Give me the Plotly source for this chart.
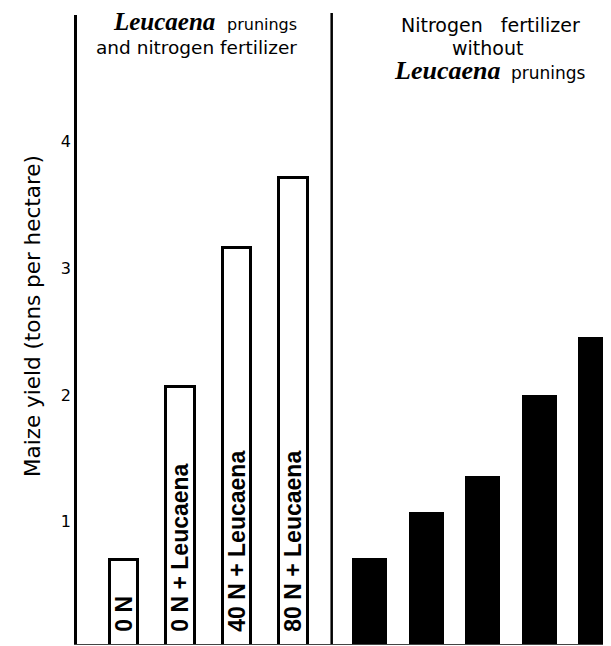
import plotly.graph_objects as go

# ---------------- data ----------------
open_labels = ["0 N", "0 N + Leucaena", "40 N + Leucaena", "80 N + Leucaena"]
open_yield = [0.70, 2.06, 3.16, 3.71]

fert_levels = ["N level 1", "N level 2", "N level 3", "N level 4", "N level 5"]
fert_yield = [0.71, 1.08, 1.36, 2.00, 2.46]

y_ticks = [1, 2, 3, 4]
y_title = "Maize yield (tons per hectare)"

# ---------------- layout constants ----------------
OFF = 8                      # page body margin of the browser
W, H = 611 - OFF, 646 - OFF
ML, MR, MT, MB = 77 - OFF, 0, 15 - OFF, 2
GROUP_GAP = 1.354            # slot distance between last open bar and first black bar
SANS = "DejaVu Sans"
SERIF = "Liberation Serif"
BOLD = "Liberation Sans"

x_open = list(range(len(open_yield)))
x_fert = [x_open[-1] + GROUP_GAP + j for j in range(len(fert_yield))]
divider_x = (x_open[-1] + x_fert[0]) / 2

NBSP = "\u00a0"


def px(x):
    return (x - OFF - ML) / (W - ML - MR)


def py(y):
    return (H - MB - (y - OFF)) / (H - MT - MB)


fig = go.Figure()

fig.add_trace(go.Bar(
    x=x_open, y=open_yield, width=0.50,
    marker=dict(color="white", line=dict(color="black", width=3)),
    text=[NBSP * 2 + t for t in open_labels],
    textposition="inside", insidetextanchor="start", textangle=-90,
    constraintext="none",
    textfont=dict(family=BOLD, size=23, color="black", weight="bold"),
    hoverinfo="skip", showlegend=False,
))

fig.add_trace(go.Bar(
    x=x_fert, y=fert_yield, width=0.62,
    marker=dict(color="black", line=dict(color="black", width=0)),
    hovertext=fert_levels, hoverinfo="text", showlegend=False,
))

# divider between groups
fig.add_shape(type="line", xref="x", yref="paper",
              x0=divider_x, x1=divider_x, y0=0, y1=1.003,
              line=dict(color="black", width=2.5))

ann = []


def add_text(text, x, y, family, size, xanchor="center", italic=False, bold=False, angle=0):
    ann.append(dict(
        text=text, xref="paper", yref="paper", x=px(x), y=py(y),
        xanchor=xanchor, yanchor="middle", showarrow=False, borderpad=0,
        textangle=angle,
        font=dict(family=family, size=size, color="black",
                  style="italic" if italic else "normal",
                  weight="bold" if bold else "normal"),
    ))


# left header
add_text("Leucaena", 112, 30 - 0.34 * 25, SERIF, 25, xanchor="left", italic=True, bold=True)
add_text("prunings", 298, 30 - 0.34 * 16, SANS, 16, xanchor="right")
add_text("and nitrogen fertilizer", 298, 54 - 0.34 * 18.5, SANS, 18.5, xanchor="right")

# right header
add_text("Nitrogen" + NBSP * 3 + "fertilizer", 490, 31 - 0.34 * 19, SANS, 19)
add_text("without", 487, 54 - 0.34 * 19, SANS, 19)
add_text("Leucaena", 393, 79 - 0.34 * 26, SERIF, 26, xanchor="left", italic=True, bold=True)
add_text("prunings", 587, 79 - 0.34 * 17, SANS, 17, xanchor="right")

# y-axis title
add_text(y_title, 32, 316, SANS, 21.5, angle=-90)

fig.update_layout(
    width=W, height=H, autosize=False,
    margin=dict(l=ML, r=MR, t=MT, b=MB, pad=0),
    paper_bgcolor="white", plot_bgcolor="white",
    bargap=0, barmode="overlay",
    annotations=ann,
    xaxis=dict(range=[-0.83, 8.62], showgrid=False, zeroline=False,
               showticklabels=False, ticks="",
               showline=True, linecolor="#444", linewidth=1),
    yaxis=dict(range=[0.035, 5.0], showgrid=False, zeroline=False,
               tickvals=y_ticks, ticks="", ticklabelstandoff=0,
               tickfont=dict(family=SANS, size=16, color="black"),
               showline=True, linecolor="black", linewidth=2.5),
)

fig.write_html("out.html")
